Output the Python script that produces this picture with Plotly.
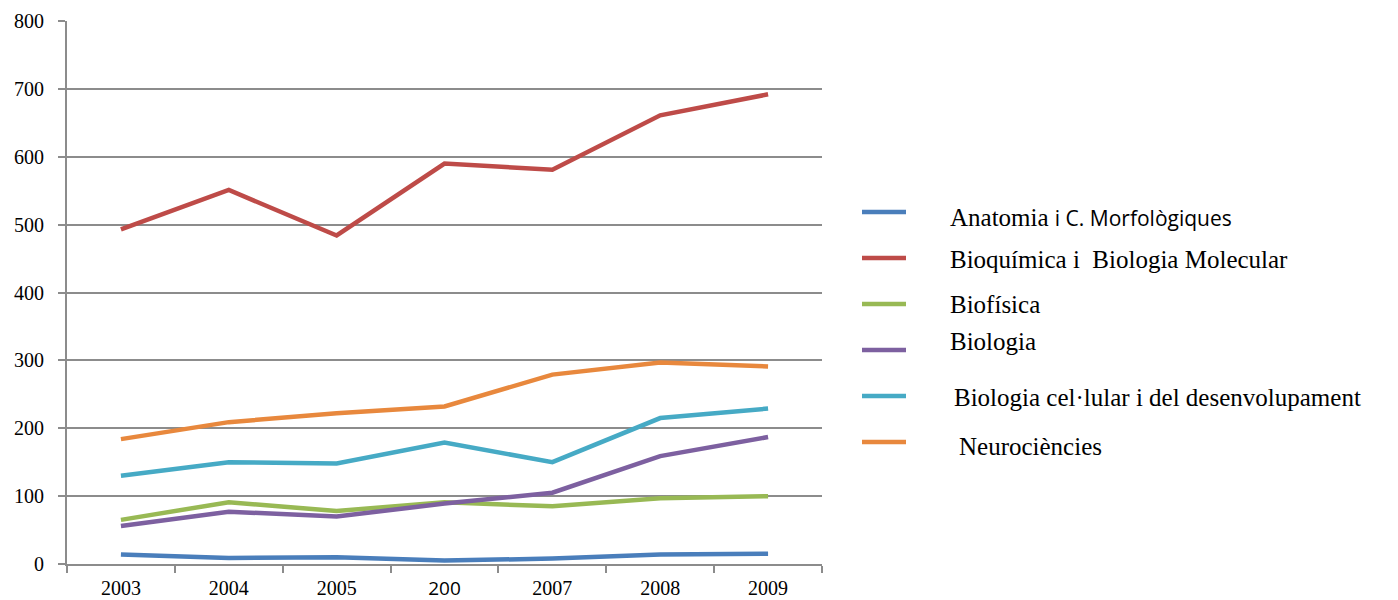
import plotly.graph_objects as go

years = ["2003", "2004", "2005", "2006", "2007", "2008", "2009"]
year_labels = ["2003", "2004", "2005", "<span style=\"font-family:'Open Sans', sans-serif;font-size:19px\">200</span>", "2007", "2008", "2009"]

series_names = [
    "Anatomia i C. Morfològiques",
    "Bioquímica i  Biologia Molecular",
    "Biofísica",
    "Biologia",
    "Biologia cel·lular i del desenvolupament",
    "Neurociències",
]
anatomia = [14, 9, 10, 5, 8, 14, 15]
bioquimica = [493, 551, 484, 590, 581, 661, 692]
biofisica = [65, 91, 78, 91, 85, 97, 100]
biologia = [56, 77, 70, 89, 105, 159, 187]
cellular = [130, 150, 148, 179, 150, 215, 229]
neuro = [184, 209, 222, 232, 279, 297, 291]
values = [anatomia, bioquimica, biofisica, biologia, cellular, neuro]
colors = ["#4A7EBB", "#BE4B48", "#98B954", "#7D60A0", "#46AAC5", "#E8883D"]

W, H = 1398, 600
L, R, T, B = 67, 822, 21, 564

fig = go.Figure()
for name, vals, col in zip(series_names, values, colors):
    fig.add_trace(go.Scatter(x=years, y=vals, mode="lines", name=name,
                             line=dict(color=col, width=4.5), showlegend=False))

grid = "#8C8C8C"
fig.update_layout(
    width=W, height=H,
    margin=dict(l=L, r=W - R, t=T, b=H - B, pad=0, autoexpand=False),
    paper_bgcolor="white", plot_bgcolor="white",
    font=dict(family="Liberation Serif, Times New Roman, serif", size=20, color="black"),
    xaxis=dict(type="category", range=[-0.5, 6.5], tickmode="array", tickvals=years,
               ticktext=year_labels, tickson="boundaries", ticks="outside", ticklen=7,
               tickwidth=2, tickcolor=grid, showline=True, linecolor=grid, linewidth=2,
               showgrid=False, zeroline=False, fixedrange=True, ticklabelstandoff=5,
               automargin=False, tickfont=dict(size=20)),
    yaxis=dict(range=[0, 800], dtick=100, tick0=0, ticks="outside", ticklen=7,
               tickwidth=2, tickcolor=grid, showline=True, linecolor=grid, linewidth=2,
               showgrid=True, gridcolor=grid, gridwidth=2, zeroline=False,
               ticklabelstandoff=10, automargin=False, tickfont=dict(size=20),
               fixedrange=True),
)

def px_x(x):
    return (x - L) / (R - L)

def px_y(y):
    return (B - y) / (B - T)

line_ys = [212, 258, 304, 350, 396, 442]
text_ys = [218, 259, 304, 342, 397, 446]
text_xs = [948, 948, 948, 948, 952, 957]
legend_texts = [
    "Anatomia <span style=\"font-family:'Open Sans', sans-serif;font-size:21px\">i C. Morfològiques</span>",
    "Bioquímica i  Biologia Molecular",
    "Biofísica",
    "Biologia",
    "Biologia cel·lular i del desenvolupament",
    "Neurociències",
]
for ly, ty, tx, txt, col in zip(line_ys, text_ys, text_xs, legend_texts, colors):
    fig.add_shape(type="line", xref="paper", yref="paper",
                  x0=px_x(862), x1=px_x(906), y0=px_y(ly), y1=px_y(ly),
                  line=dict(color=col, width=4.5))
    fig.add_annotation(xref="paper", yref="paper", x=px_x(tx), y=px_y(ty),
                       xanchor="left", yanchor="middle", showarrow=False,
                       text=txt, font=dict(size=25, color="black",
                                           family="Liberation Serif, Times New Roman, serif"))

fig.write_html("out.html", config={"displayModeBar": False, "staticPlot": True},
               post_script="document.body.style.margin='0';document.body.style.overflow='hidden';")
